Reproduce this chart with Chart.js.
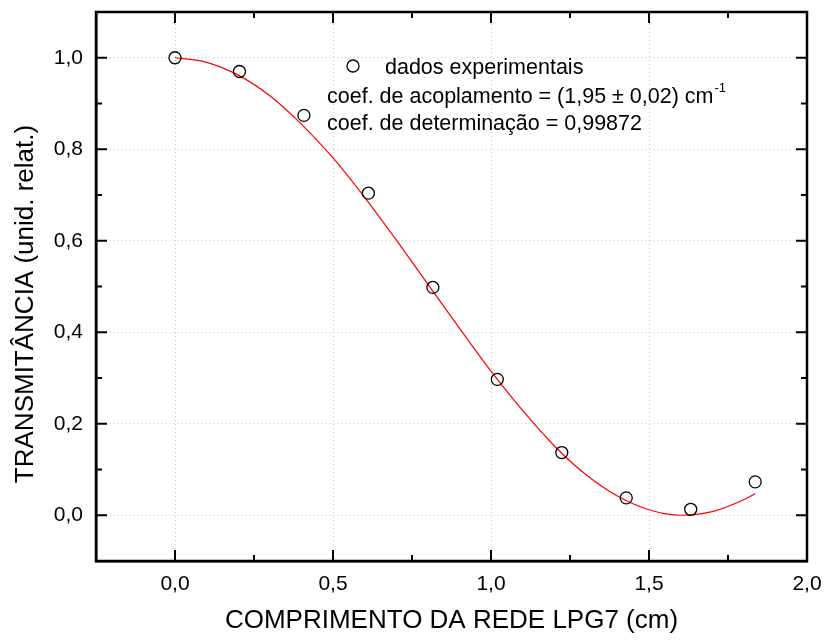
<!DOCTYPE html>
<html>
<head>
<meta charset="utf-8">
<script src="https://cdn.jsdelivr.net/npm/chart.js@4.4.1/dist/chart.umd.min.js"></script>
<style>
  html, body { margin: 0; padding: 0; background: #fff; }
</style>
</head>
<body>
<canvas id="chart" width="826" height="642"></canvas>
<script>
// experimental points
const lengthCm = [0, 0.204, 0.408, 0.612, 0.816, 1.02, 1.224, 1.428, 1.632, 1.836];
const transmittance = [1.0, 0.970, 0.874, 0.704, 0.498, 0.297, 0.137, 0.038, 0.013, 0.073];

// fitted curve
const fitX = [0, 0.1, 0.2, 0.3, 0.4, 0.5, 0.6, 0.7, 0.8, 0.9, 1.0, 1.1, 1.2, 1.3, 1.4, 1.5, 1.6, 1.7, 1.8, 1.836];
const fitY = [1.0, 0.990, 0.962, 0.917, 0.855, 0.781, 0.695, 0.602, 0.505, 0.409, 0.315, 0.229, 0.152, 0.089, 0.042, 0.012, 0.000, 0.008, 0.034, 0.047];

// axis ticks
const xTickValues = [0, 0.5, 1.0, 1.5, 2.0];
const xTickLabels = ['0,0', '0,5', '1,0', '1,5', '2,0'];
const xMinorValues = [0.25, 0.75, 1.25, 1.75];
const yTickValues = [0, 0.2, 0.4, 0.6, 0.8, 1.0];
const yTickLabels = ['0,0', '0,2', '0,4', '0,6', '0,8', '1,0'];
const yMinorValues = [0.1, 0.3, 0.5, 0.7, 0.9];

const FONT = '"Liberation Sans", Arial, sans-serif';
const Y_TITLE = 'TRANSMITÂNCIA (unid. relat.)';

// no extra room for labels, the layout padding decides the plot box
function noScalePadding(s) {
  s.paddingTop = 0; s.paddingBottom = 0; s.paddingLeft = 0; s.paddingRight = 0;
}

// frame with inward ticks on all four sides
const frameTicks = {
  id: 'frameTicks',
  afterDraw(chart) {
    const { ctx, chartArea: a, scales: { x, y } } = chart;
    ctx.save();
    ctx.strokeStyle = '#000';
    ctx.lineWidth = 2;
    const line = (x1, y1, x2, y2) => {
      ctx.beginPath(); ctx.moveTo(x1, y1); ctx.lineTo(x2, y2); ctx.stroke();
    };
    const xt = (vals, len) => vals.forEach(v => {
      const p = x.getPixelForValue(v);
      line(p, a.bottom, p, a.bottom - len);
      line(p, a.top, p, a.top + len);
    });
    const yt = (vals, len) => vals.forEach(v => {
      const p = y.getPixelForValue(v);
      line(a.left, p, a.left + len, p);
      line(a.right, p, a.right - len, p);
    });
    xt(xTickValues, 11); xt(xMinorValues, 6);
    yt(yTickValues, 11); yt(yMinorValues, 6);
    ctx.lineWidth = 2.5;
    ctx.strokeRect(a.left, a.top, a.right - a.left, a.bottom - a.top);

    // y title sits a bit below the plot centre in the original
    ctx.fillStyle = '#000';
    ctx.font = '26px ' + FONT;
    ctx.textAlign = 'center';
    ctx.textBaseline = 'alphabetic';
    ctx.translate(33, 304);
    ctx.rotate(-Math.PI / 2);
    ctx.fillText(Y_TITLE, 0, 0);
    ctx.restore();
  }
};

// legend + fit info text block
const infoBox = {
  id: 'infoBox',
  afterDraw(chart) {
    const { ctx } = chart;
    ctx.save();
    ctx.fillStyle = '#000';
    ctx.strokeStyle = '#000';
    ctx.lineWidth = 1.3;
    ctx.beginPath();
    ctx.arc(353, 66, 6, 0, Math.PI * 2);
    ctx.stroke();
    ctx.font = '21.5px ' + FONT;
    ctx.textBaseline = 'alphabetic';
    ctx.fillText('dados experimentais', 385, 74);
    const l2 = 'coef. de acoplamento = (1,95 \u00b1 0,02) cm';
    ctx.fillText(l2, 327, 103);
    const w = ctx.measureText(l2).width;
    ctx.font = '13px ' + FONT;
    ctx.fillText('-1', 327 + w + 1, 92);
    ctx.font = '21.5px ' + FONT;
    ctx.fillText('coef. de determina\u00e7\u00e3o = 0,99872', 327, 130);
    ctx.restore();
  }
};

const ctx = document.getElementById('chart').getContext('2d');
new Chart(ctx, {
  type: 'scatter',
  data: {
    datasets: [
      {
        label: 'ajuste',
        data: fitX.map((v, i) => ({ x: v, y: fitY[i] })),
        showLine: true,
        borderColor: '#ff0000',
        borderWidth: 1.2,
        pointRadius: 0,
        cubicInterpolationMode: 'monotone',
        order: 2
      },
      {
        label: 'dados experimentais',
        data: lengthCm.map((v, i) => ({ x: v, y: transmittance[i] })),
        pointStyle: 'circle',
        pointRadius: 6,
        borderColor: '#000',
        backgroundColor: 'rgba(0,0,0,0)',
        borderWidth: 1.3,
        order: 1
      }
    ]
  },
  options: {
    responsive: false,
    animation: false,
    layout: { padding: { left: 0, top: 12, right: 19, bottom: 0 } },
    plugins: { legend: { display: false }, tooltip: { enabled: false } },
    scales: {
      x: {
        type: 'linear',
        min: -0.25,
        max: 2.0,
        afterBuildTicks: s => { s.ticks = xTickValues.map(v => ({ value: v })); },
        afterFit: s => { s.height = 81; noScalePadding(s); },
        ticks: {
          color: '#000',
          font: { family: FONT, size: 21 },
          padding: 11,
          maxRotation: 0,
          callback: (v, i) => xTickLabels[i]
        },
        grid: { color: '#c4c4c4', lineWidth: 1, drawTicks: false },
        border: { display: true, color: '#000', width: 2.5, dash: [1, 3] },
        title: {
          display: true,
          text: 'COMPRIMENTO DA REDE LPG7 (cm)',
          color: '#000',
          font: { family: FONT, size: 26, lineHeight: 1.2 },
          padding: { top: 0, bottom: 6 }
        }
      },
      y: {
        type: 'linear',
        min: -0.1,
        max: 1.1,
        afterBuildTicks: s => { s.ticks = yTickValues.map(v => ({ value: v })); },
        afterFit: s => { s.width = 96; noScalePadding(s); },
        ticks: {
          color: '#000',
          font: { family: FONT, size: 21 },
          padding: 13,
          callback: (v, i) => yTickLabels[i]
        },
        grid: { color: '#c4c4c4', lineWidth: 1, drawTicks: false },
        border: { display: true, color: '#000', width: 2.5, dash: [1, 3] },
        title: { display: false }
      }
    }
  },
  plugins: [frameTicks, infoBox]
});
</script>
</body>
</html>
